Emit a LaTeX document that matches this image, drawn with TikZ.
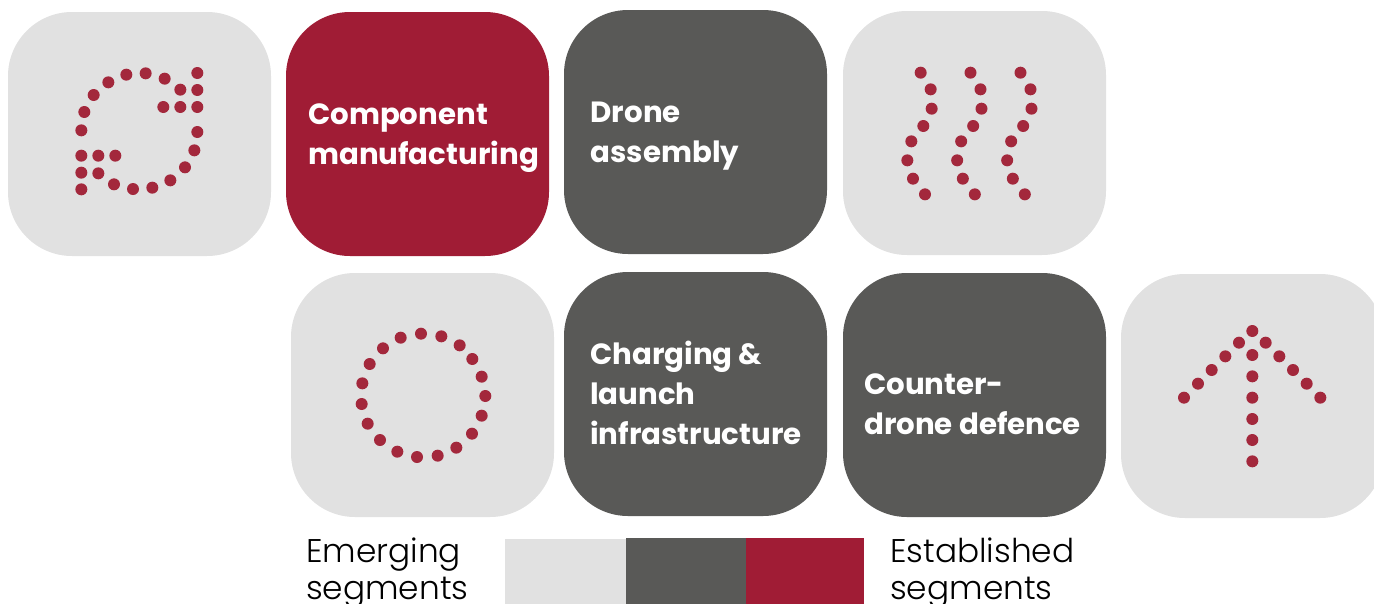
\documentclass[tikz,border=0pt]{standalone}
\usepackage{fontspec}
\setmainfont{Poppins}
\newfontfamily\boldf{Poppins Bold}
\newfontfamily\lightf{Poppins Light}
\definecolor{lightbox}{HTML}{E1E1E1}
\definecolor{darkbox}{HTML}{595957}
\definecolor{redbox}{HTML}{A01C35}
\definecolor{dotred}{HTML}{A3283C}
\tikzset{
  tile/.style={rounded corners=64pt,minimum width=263pt,minimum height=244pt,inner sep=0pt,outer sep=0pt,anchor=north west},
  lighttile/.style={tile,fill=lightbox},
  darktile/.style={tile,fill=darkbox},
  redtile/.style={tile,fill=redbox},
  tiletext/.style={text=white,anchor=west,align=left,inner sep=0pt,font=\boldf\fontsize{29.25}{40}\selectfont},
  legendtext/.style={text=black,anchor=west,align=left,inner sep=0pt,font=\lightf\fontsize{32.8}{37.5}\selectfont},
  swatch/.style={inner sep=0pt,outer sep=0pt,anchor=north west,minimum height=70pt},
  dotm/.style={fill=dotred,draw=none}
}
\newcommand{\dotset}[3]{\foreach \zx/\zy in {#3}{\fill[dotm] ({#1+\zx/3},{#2+\zy/3}) circle (6);}}
\begin{document}
\begin{tikzpicture}[x=1pt,y=-1pt]
\useasboundingbox (0,0) rectangle (1374,603);
\clip (0,0) rectangle (1374,603);
\node[lighttile] (t1) at (8,12) {};
\node[redtile] (t2) at (286,12) {};
\node[darktile] (t3) at (564,10) {};
\node[lighttile] (t4) at (843,11) {};
\node[lighttile] (t5) at (291,273) {};
\node[darktile] (t6) at (564,272) {};
\node[darktile] (t7) at (843,273) {};
\node[lighttile] (t8) at (1121,274) {};
\node[tiletext] (l2) at (308,138) {Component\\manufacturing};
\node[tiletext] (l3) at (590.5,136) {Drone\\assembly};
\node[tiletext] (l6) at (590,393) {Charging \&\\launch\\infrastructure};
\node[tiletext] (l7) at (864,404) {Counter-\\drone defence};
\dotset{60}{50}{412/69,412/120,412/171,361/119,361/171,310/171,314/86,257/70,199/74,145/97,101/135,73/186,64/241,64/317,115/317,166/317,64/368,115/370,64/418,162/403,219/417,277/413,331/391,375/352,403/301,412/246}
\foreach \off in {0,149.5,299.5}{
\dotset{880+\off/3}{50}{122/68,152/118,155/176,130/228,94/274,82/331,99/386,135/433}
}
\dotset{340}{315}{243/56,304/64,359/91,397/132,425/185,436/243,425/302,396/356,349/398,293/422,231/426,172/410,120/375,83/326,65/267,67/205,89/147,129/100,182/68}
\dotset{1160}{315}{277/48,237/83,317/83,196/124,358/124,155/165,399/165,114/206,440/206,72/248,481/248,277/120,277/184,277/248,277/312,277/375,277/439}
\node[swatch,fill=lightbox,minimum width=121pt] (s1) at (505,539) {};
\node[swatch,fill=darkbox,minimum width=120pt] (s2) at (626,538) {};
\node[swatch,fill=redbox,minimum width=118pt] (s3) at (746,538) {};
\node[legendtext] (e1) at (306,573) {Emerging\\segments};
\node[legendtext] (e2) at (890,573) {Established\\segments};
\end{tikzpicture}
\end{document}
